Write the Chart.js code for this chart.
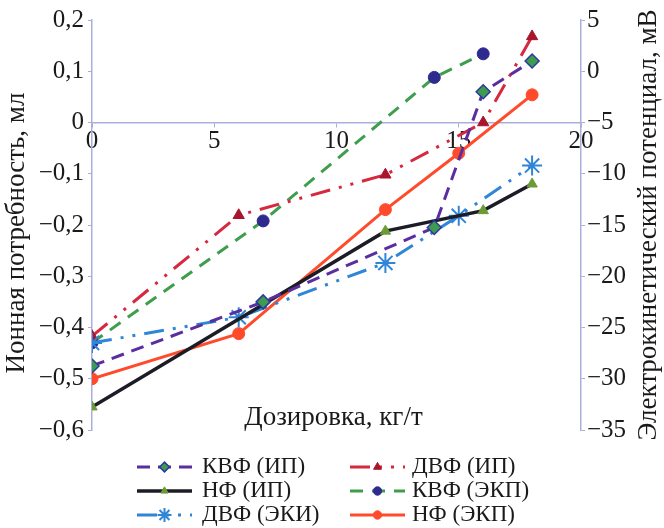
<!DOCTYPE html>
<html>
<head>
<meta charset="utf-8">
<script src="https://cdn.jsdelivr.net/npm/chart.js@4/dist/chart.umd.min.js"></script>
<style>
	body { margin: 0; background: #fff; }
	#wrap { width: 664px; height: 528px; }
</style>
</head>
<body>
<div id="wrap"><canvas id="chart0" width="664" height="528"></canvas></div>
<script>
// 軸目盛
const xTicks = [0, 5, 10, 15, 20];
const leftTicks = [-0.6, -0.5, -0.4, -0.3, -0.2, -0.1, 0, 0.1, 0.2];
const rightTicks = [-35, -30, -25, -20, -15, -10, -5, 0, 5];

// ионная потребность, мл (左軸)
const kvfIpX = [0, 7, 14, 16, 18];
const kvfIp = [-0.475, -0.35, -0.205, 0.06, 0.12];
const nfIpX = [0, 12, 16, 18];
const nfIp = [-0.555, -0.212, -0.172, -0.12];
const dvfIpX = [0, 6, 12, 16, 18];
const dvfIp = [-0.417, -0.181, -0.102, 0, 0.168];

// электрокинетический потенциал, мВ (右軸)
const dvfEkiX = [0, 6, 12, 15, 18];
const dvfEki = [-26.5, -24, -18.7, -14.1, -9.2];
const kvfEkpX = [0, 7, 14, 16];
const kvfEkp = [-26.5, -14.6, -0.6, 1.7];
const nfEkpX = [0, 6, 12, 15, 18];
const nfEkp = [-30, -25.6, -13.5, -8, -2.3];

const FONT = "'Liberation Serif', 'DejaVu Serif', serif";
const AXIS_COLOR = '#a9afdb';
const TICK_FONT = { family: FONT, size: 25 };

function pts(xs, ys) {
	return xs.map((x, i) => ({ x: x, y: ys[i] }));
}

function fmt(v) {
	if (Math.abs(v) < 1e-9) return '0';
	let s = Number.isInteger(v) ? String(Math.abs(v)) : Math.abs(v).toFixed(1).replace('.', ',');
	return (v < 0 ? '\u2212' : '') + s;
}

function setTicks(arr) {
	return function(scale) {
		scale.ticks = arr.map(v => ({ value: v }));
	};
}

let datasets = [
	{
		label: 'КВФ (ИП)', yAxisID: 'y', data: pts(kvfIpX, kvfIp),
		borderColor: '#5a2ea0', borderWidth: 3, borderDash: [13, 8],
		pointStyle: 'rectRot', pointRadius: 7, pointBackgroundColor: '#3f9b4f',
		pointBorderColor: '#2b3b9c', pointBorderWidth: 1.5
	},
	{
		label: 'НФ (ИП)', yAxisID: 'y', data: pts(nfIpX, nfIp),
		borderColor: '#1c1c26', borderWidth: 3.5, borderDash: [],
		pointStyle: 'triangle', pointRadius: 6, pointBackgroundColor: '#6c9b36',
		pointBorderColor: '#6c9b36', pointBorderWidth: 1
	},
	{
		label: 'ДВФ (ЭКИ)', yAxisID: 'y2', data: pts(dvfEkiX, dvfEki),
		borderColor: '#2f86d6', borderWidth: 3, borderDash: [20, 9, 3, 9, 3, 9],
		pointStyle: 'star', pointRadius: 10, pointBackgroundColor: '#2f86d6',
		pointBorderColor: '#2f86d6', pointBorderWidth: 2
	},
	{
		label: 'ДВФ (ИП)', yAxisID: 'y', data: pts(dvfIpX, dvfIp),
		borderColor: '#d6283f', borderWidth: 3, borderDash: [20, 9, 3, 9, 3, 9],
		pointStyle: 'triangle', pointRadius: 6.5, pointBackgroundColor: '#a8162e',
		pointBorderColor: '#a8162e', pointBorderWidth: 1
	},
	{
		label: 'КВФ (ЭКП)', yAxisID: 'y2', data: pts(kvfEkpX, kvfEkp),
		borderColor: '#3f9e4c', borderWidth: 3, borderDash: [13, 9],
		pointStyle: 'circle', pointRadius: 6, pointBackgroundColor: '#2e2a8e',
		pointBorderColor: '#2e2a8e', pointBorderWidth: 1
	},
	{
		label: 'НФ (ЭКП)', yAxisID: 'y2', data: pts(nfEkpX, nfEkp),
		borderColor: '#ff4b2b', borderWidth: 3, borderDash: [],
		pointStyle: 'circle', pointRadius: 6, pointBackgroundColor: '#ff4b2b',
		pointBorderColor: '#ff4b2b', pointBorderWidth: 1
	}
];
datasets.forEach(ds => { ds.tension = 0; ds.fill = false; });

// 凡例の配置 (2列×3行)
const legendSlots = [
	{ x0: 137, x1: 192, tx: 202, y: 467 },
	{ x0: 137, x1: 192, tx: 202, y: 491 },
	{ x0: 137, x1: 192, tx: 202, y: 515 },
	{ x0: 350, x1: 405, tx: 412, y: 467 },
	{ x0: 350, x1: 405, tx: 412, y: 491 },
	{ x0: 350, x1: 405, tx: 412, y: 515 }
];

/**
 * 軸タイトルと凡例を描く
 */
const decoPlugin = {
	id: 'deco',
	afterDraw(chart) {
		let ctx = chart.ctx;
		let area = chart.chartArea;
		ctx.save();
		ctx.fillStyle = '#1a1a1a';
		ctx.font = '27px ' + FONT;
		ctx.textAlign = 'center';
		ctx.textBaseline = 'middle';
		ctx.fillText('Дозировка, кг/т', (area.left + area.right) / 2 - 3, area.bottom - 12);

		ctx.save();
		ctx.translate(17, 233);
		ctx.rotate(-Math.PI / 2);
		ctx.fillText('Ионная потребность, мл', 0, 0);
		ctx.restore();

		ctx.save();
		ctx.translate(649, 225);
		ctx.rotate(-Math.PI / 2);
		ctx.fillText('Электрокинетический потенциал, мВ', 0, 0);
		ctx.restore();

		ctx.font = '23px ' + FONT;
		ctx.textAlign = 'left';
		chart.data.datasets.forEach((ds, i) => {
			let s = legendSlots[i];
			ctx.strokeStyle = ds.borderColor;
			ctx.lineWidth = ds.borderWidth;
			ctx.setLineDash(ds.borderDash);
			ctx.beginPath();
			ctx.moveTo(s.x0, s.y);
			ctx.lineTo(s.x1, s.y);
			ctx.stroke();
			ctx.setLineDash([]);
			ctx.fillStyle = ds.pointBackgroundColor;
			ctx.strokeStyle = ds.pointBorderColor;
			ctx.lineWidth = ds.pointBorderWidth;
			Chart.helpers.drawPoint(ctx, {
				pointStyle: ds.pointStyle, radius: ds.pointRadius * 0.7,
				borderWidth: ds.pointBorderWidth, rotation: 0
			}, (s.x0 + s.x1) / 2, s.y);
			ctx.fillStyle = '#1a1a1a';
			ctx.fillText(ds.label, s.tx, s.y);
		});
		ctx.restore();
	}
};

let config = {
	type: 'line',
	data: { datasets: datasets },
	options: {
		responsive: false,
		animation: false,
		layout: { padding: { top: 20, bottom: 98, left: 0, right: 0 } },
		plugins: {
			legend: { display: false },
			tooltip: { enabled: false }
		},
		scales: {
			x: {
				type: 'linear', position: { y: 0 }, min: 0, max: 20,
				afterBuildTicks: setTicks(xTicks),
				ticks: { font: TICK_FONT, color: '#1a1a1a', padding: 0, maxRotation: 0, callback: fmt },
				grid: { drawOnChartArea: false, color: AXIS_COLOR, tickLength: 4 },
				border: { color: AXIS_COLOR, width: 1.5 }
			},
			y: {
				position: 'left', min: -0.6, max: 0.2,
				afterBuildTicks: setTicks(leftTicks),
				afterFit: function(scale) { scale.width = 92; },
				ticks: { font: TICK_FONT, color: '#1a1a1a', padding: 4, callback: fmt },
				grid: { drawOnChartArea: false, color: AXIS_COLOR, tickLength: 4 },
				border: { color: AXIS_COLOR, width: 1.5 }
			},
			y2: {
				position: 'right', min: -35, max: 5,
				afterBuildTicks: setTicks(rightTicks),
				afterFit: function(scale) { scale.width = 83; },
				ticks: { font: TICK_FONT, color: '#1a1a1a', padding: 2, callback: fmt },
				grid: { drawOnChartArea: false, color: AXIS_COLOR, tickLength: 4 },
				border: { color: AXIS_COLOR, width: 1.5 }
			}
		}
	},
	plugins: [decoPlugin]
};

let myChart = new Chart(document.getElementById('chart0').getContext('2d'), config);
</script>
</body>
</html>
